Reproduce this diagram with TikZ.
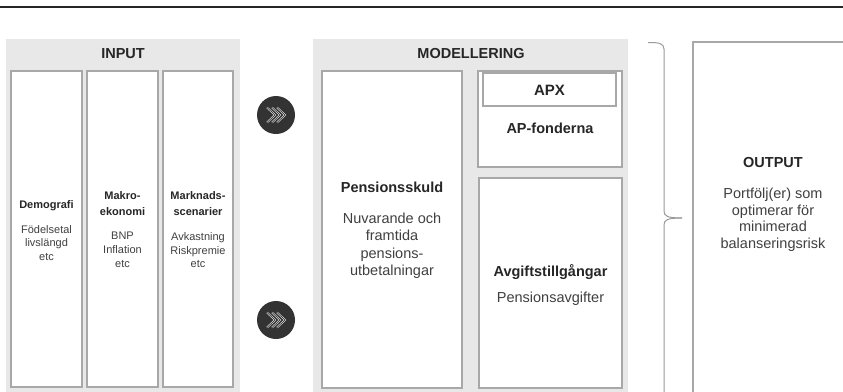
\documentclass[tikz,border=0pt]{standalone}
\usepackage{fontspec}
\setmainfont{Liberation Sans}
\usetikzlibrary{calc}
\definecolor{panelgray}{HTML}{E8E8E8}
\definecolor{boxgray}{HTML}{A8A8A8}
\definecolor{bracegray}{HTML}{9A9A9A}
\definecolor{txtdark}{HTML}{262626}
\definecolor{txtreg}{HTML}{404040}
\definecolor{circgray}{HTML}{333333}
\begin{document}
\begin{tikzpicture}[x=1pt,y=-1pt,
  panel/.style={fill=panelgray, draw=none, inner sep=0, outer sep=0},
  box/.style={draw=boxgray, fill=white, line width=1.1pt, inner sep=0, outer sep=0},
  bt/.style={font=\bfseries\fontsize{14.5}{17}\selectfont, text=txtdark, anchor=base, inner sep=0},
  rt/.style={font=\fontsize{14.5}{17}\selectfont, text=txtreg, anchor=base, inner sep=0},
  bs/.style={font=\bfseries\fontsize{11}{13}\selectfont, text=txtdark, anchor=base, inner sep=0},
  rs/.style={font=\fontsize{11}{13}\selectfont, text=txtreg, anchor=base, inner sep=0},
  go/.style={circle, fill=circgray, minimum size=38pt, inner sep=0},
  chev/.style={draw=white, double=circgray, double distance=0.7pt, line width=0.5pt},
  brace/.style={draw=bracegray, line width=1pt}]
\useasboundingbox (0,0) rectangle (843,391);
\clip (0,0) rectangle (843,391);
\fill[white] (0,0) rectangle (843,391);
% top rule
\coordinate (rl) at (0,7);
\coordinate (rr) at (843,7);
\draw[line width=1.2pt, color=txtdark] (rl) -- (rr);

% INPUT panel
\node[panel, minimum width=234pt, minimum height=356pt] (pin) at (123,217) {};
\node[bt] (tin) at (123,58) {INPUT};
\node[box, minimum width=71pt, minimum height=316pt] (demo) at (46.5,229) {};
\node[box, minimum width=71pt, minimum height=316pt] (makro) at (122.5,229) {};
\node[box, minimum width=70pt, minimum height=316pt] (mark) at (198,229) {};

\node[bs] (d1) at (46.5,208) {Demografi};
\node[rs] (d2) at (46.5,233) {Födelsetal};
\node[rs] (d3) at (46.5,246.5) {livslängd};
\node[rs] (d4) at (46.5,260) {etc};

\node[bs] (m1) at (122.5,199) {Makro-};
\node[bs] (m2) at (122.5,215.5) {ekonomi};
\node[rs] (m3) at (122.5,239) {BNP};
\node[rs] (m4) at (122.5,253) {Inflation};
\node[rs] (m5) at (122.5,267) {etc};

\node[bs] (k1) at (198,199) {Marknads-};
\node[bs] (k2) at (198,215.5) {scenarier};
\node[rs] (k3) at (198,240) {Avkastning};
\node[rs] (k4) at (198,254) {Riskpremie};
\node[rs] (k5) at (198,267) {etc};

% arrows circles
\node[go] (c1) at (276,115) {};
\node[go] (c2) at (276,320) {};
\foreach \c in {c1,c2}{
  \foreach \i in {0,1,2}{
    \draw[chev] ($(\c)+(-9+5*\i,-7.5)$) -- ++(8,7.5) -- ++(-8,7.5);
  }
}

% MODELLERING panel
\node[panel, minimum width=315pt, minimum height=356pt] (pmod) at (470.5,217) {};
\node[bt] (tmod) at (471,58) {MODELLERING};
\node[box, minimum width=140pt, minimum height=317pt] (pens) at (392,229.5) {};
\node[box, minimum width=144pt, minimum height=96pt] (ap) at (550,119) {};
\node[box, minimum width=133pt, minimum height=33pt] (apx) at (549.5,89.5) {};
\node[box, minimum width=143pt, minimum height=210pt] (avg) at (550.5,283) {};

\node[bt] (p1) at (392,192) {Pensionsskuld};
\node[rt] (p2) at (392,223) {Nuvarande och};
\node[rt] (p3) at (392,240.5) {framtida};
\node[rt] (p4) at (392,258) {pensions-};
\node[rt] (p5) at (392,275.5) {utbetalningar};

\node[bt, font=\bfseries\fontsize{15}{17}\selectfont] (a1) at (549.5,95.5) {APX};
\node[bt] (a2) at (550,133) {AP-fonderna};
\node[bt] (g1) at (550.5,276) {Avgiftstillgångar};
\node[rt] (g2) at (550.5,302) {Pensionsavgifter};

% brace
\coordinate (bt0) at (648,42.5);
\coordinate (btip) at (682,218);
\coordinate (bb0) at (664,395);
\draw[brace] (bt0) .. controls (658,42.5) and (664,43) .. (664,49) -- (664,211)
  .. controls (664,216) and (667,218) .. (btip);
\draw[brace] (btip) .. controls (667,218) and (664,220) .. (664,225) -- (bb0);

% OUTPUT box
\node[box, minimum width=170pt, minimum height=362pt] (out) at (778,223) {};
\node[bt] (o1) at (773,167) {OUTPUT};
\node[rt] (o2) at (773,198.5) {Portfölj(er) som};
\node[rt] (o3) at (773,215) {optimerar för};
\node[rt] (o4) at (773,231.5) {minimerad};
\node[rt] (o5) at (773,248) {balanseringsrisk};
\end{tikzpicture}
\end{document}
